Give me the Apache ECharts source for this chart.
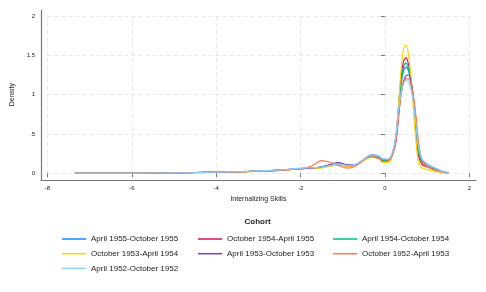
<!DOCTYPE html>
<html>
<head>
<meta charset="utf-8">
<script src="https://cdn.jsdelivr.net/npm/echarts@6/dist/echarts.min.js"></script>
<style>
html,body{margin:0;padding:0;background:#fff;}
#main{width:486px;height:292px;}
</style>
</head>
<body>
<div id="main"></div>
<script>
var xGrid = [-7.35,-6.5,-5.5,-4.5,-3.5,-3,-2.5,-2,-1.75,-1.5,-1.3,-1.1,-0.9,-0.7,-0.5,-0.32,-0.15,-0.05,0.08,0.18,0.26,0.32,0.38,0.44,0.5,0.56,0.62,0.68,0.74,0.8,0.87,0.95,1.05,1.2,1.35,1.5];

var cohortNames = [
  "April 1955-October 1955",
  "October 1954-April 1955",
  "April 1954-October 1954",
  "October 1953-April 1954",
  "April 1953-October 1953",
  "October 1952-April 1953",
  "April 1952-October 1952"
];

var apr55oct55 = [0.001,0.002,0.004,0.01,0.02,0.03,0.04,0.06,0.065,0.075,0.1,0.12,0.095,0.1,0.17,0.22,0.2,0.165,0.17,0.26,0.45,0.8,1.12,1.3,1.35,1.3,1.15,0.92,0.6,0.3,0.17,0.13,0.1,0.06,0.025,0.005];
var oct54apr55 = [0.001,0.002,0.004,0.009,0.019,0.028,0.038,0.058,0.065,0.08,0.11,0.12,0.09,0.1,0.17,0.215,0.19,0.15,0.16,0.25,0.45,0.82,1.2,1.42,1.47,1.38,1.18,0.88,0.52,0.22,0.12,0.09,0.07,0.04,0.015,0.003];
var apr54oct54 = [0.001,0.002,0.004,0.01,0.02,0.029,0.04,0.06,0.068,0.08,0.1,0.11,0.1,0.11,0.17,0.22,0.2,0.16,0.17,0.26,0.46,0.82,1.15,1.35,1.4,1.33,1.16,0.9,0.56,0.26,0.15,0.11,0.08,0.05,0.02,0.004];
var oct53apr54 = [0.001,0.002,0.004,0.008,0.018,0.026,0.036,0.055,0.06,0.07,0.09,0.11,0.09,0.1,0.16,0.21,0.185,0.14,0.14,0.24,0.45,0.85,1.3,1.58,1.63,1.5,1.2,0.78,0.38,0.12,0.07,0.055,0.04,0.025,0.01,0.003];
var apr53oct53 = [0.001,0.002,0.004,0.01,0.02,0.03,0.04,0.06,0.065,0.08,0.11,0.135,0.11,0.11,0.18,0.235,0.22,0.18,0.17,0.24,0.4,0.7,1.0,1.17,1.24,1.25,1.15,0.95,0.65,0.35,0.18,0.13,0.1,0.06,0.025,0.005];
var oct52apr53 = [0.001,0.002,0.004,0.01,0.02,0.03,0.04,0.06,0.09,0.16,0.14,0.1,0.065,0.09,0.17,0.21,0.19,0.15,0.16,0.24,0.42,0.72,1.0,1.15,1.2,1.2,1.12,0.96,0.7,0.38,0.18,0.1,0.07,0.04,0.015,0.003];
var apr52oct52 = [0.001,0.002,0.004,0.01,0.021,0.031,0.042,0.065,0.07,0.08,0.1,0.12,0.1,0.11,0.18,0.23,0.22,0.18,0.18,0.27,0.48,0.8,1.02,1.14,1.18,1.16,1.06,0.88,0.6,0.32,0.19,0.14,0.1,0.06,0.025,0.005];

var seriesValues = [apr55oct55, oct54apr55, apr54oct54, oct53apr54, apr53oct53, oct52apr53, apr52oct52];
var colors = ["#1a85ff","#d41159","#00bf7f","#ffd400","#6a45c4","#ff7a45","#90d0ff"];

var xTicks = [-8,-6,-4,-2,0,2];
var yTickLabels = {"0":"0","0.5":".5","1":"1","1.5":"1.5","2":"2"};

var FONT = "'Liberation Sans', Arial, sans-serif";
var TXT = "#222";
var LINE_ICON = 'path://M0,0 H24 V1.5 H0 Z';

function pairs(ys){ return ys.map(function(y,i){ return [xGrid[i], y]; }); }

var series = cohortNames.map(function(name, i){
  return {
    name: name, type: 'line', xAxisIndex: 0, yAxisIndex: 0,
    data: pairs(seriesValues[i]),
    smooth: 0.35, symbol: 'none', showSymbol: false,
    lineStyle: {width: 1.2, color: colors[i]},
    itemStyle: {color: colors[i]},
    emphasis: {disabled: true}, silent: true, z: 2 + i
  };
});

var legendBase = {
  orient: 'vertical', top: 234, itemWidth: 24, itemHeight: 10, itemGap: 4.7,
  icon: LINE_ICON,
  textStyle: {fontSize: 8, fontFamily: FONT, color: TXT, lineHeight: 10}, selectedMode: false, padding: 0
};
function legendAt(left, names){ var o = Object.assign({}, legendBase); o.left = left; o.data = names; return o; }

var chart = echarts.init(document.getElementById('main'), null, {renderer: 'canvas'});
chart.setOption({
  animation: false,
  backgroundColor: '#fff',
  color: colors,
  grid: [
    {left: 47.5, right: 16.7, top: 16, bottom: 118.7},
    {left: 41, right: 10, top: 10, bottom: 112}
  ],
  xAxis: [
    {type: 'value', gridIndex: 0, min: xTicks[0], max: xTicks[xTicks.length-1], interval: 2, offset: 6.7,
     axisLine: {show: false},
     axisTick: {show: true, length: 4, lineStyle: {color: '#777', width: 1}},
     axisLabel: {fontSize: 6, fontFamily: FONT, color: TXT, margin: 5},
     splitLine: {show: true, lineStyle: {color: '#e8e8e8', type: [4,3], width: 1}},
     name: 'Internalizing Skills', nameLocation: 'middle', nameGap: 16,
     nameTextStyle: {fontSize: 7, fontFamily: FONT, color: TXT}},
    {type: 'value', gridIndex: 1, min: 0, max: 1,
     axisLine: {show: true, lineStyle: {color: '#777', width: 1.2}},
     axisTick: {show: false}, axisLabel: {show: false}, splitLine: {show: false}}
  ],
  yAxis: [
    {type: 'value', gridIndex: 0, min: 0, max: 2, interval: 0.5, offset: 6.5,
     axisLine: {show: false},
     axisTick: {show: true, length: 4, lineStyle: {color: '#777', width: 1}},
     axisLabel: {fontSize: 6, fontFamily: FONT, color: TXT, margin: 6,
       formatter: function(v){ var k = String(v); return yTickLabels[k] !== undefined ? yTickLabels[k] : k; }},
     splitLine: {show: true, lineStyle: {color: '#e8e8e8', type: [4,3], width: 1}},
     name: 'Density', nameLocation: 'middle', nameGap: 24,
     nameTextStyle: {fontSize: 7, fontFamily: FONT, color: TXT}},
    {type: 'value', gridIndex: 1, min: 0, max: 1,
     axisLine: {show: true, lineStyle: {color: '#777', width: 1.2}},
     axisTick: {show: false}, axisLabel: {show: false}, splitLine: {show: false}}
  ],
  legend: [
    legendAt(62, [cohortNames[0], cohortNames[3], cohortNames[6]]),
    legendAt(198, [cohortNames[1], cohortNames[4]]),
    legendAt(333, [cohortNames[2], cohortNames[5]])
  ],
  graphic: [
    {type: 'text', left: 258.5 - 14, top: 217.5,
     style: {text: 'Cohort', fontSize: 8, fontWeight: 'bold', fontFamily: FONT, fill: TXT}}
  ],
  series: series
});
</script>
</body>
</html>
